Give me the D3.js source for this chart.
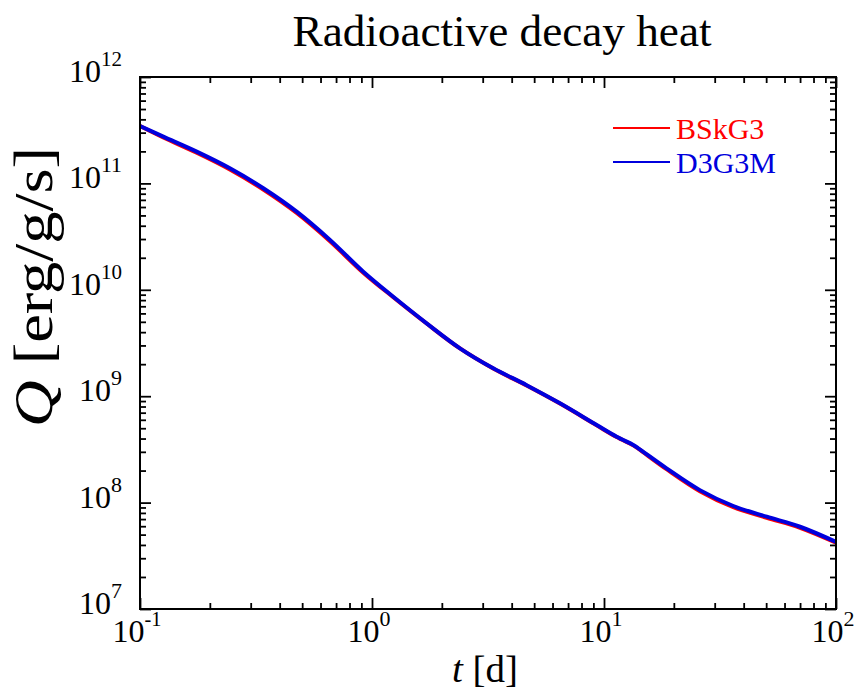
<!DOCTYPE html>
<html>
<head>
<meta charset="utf-8">
<script src="https://cdn.jsdelivr.net/npm/d3@7"></script>
<style>
  body { margin: 0; background: #fff; }
  svg text { font-family: "Liberation Serif", Tinos, "Times New Roman", Times, serif; }
</style>
</head>
<body>
<div id="wrapper"></div>
<script>
/* decay heat of two mass models */
const timeDays = [0.1, 0.126, 0.1755, 0.244, 0.34, 0.4735, 0.659, 0.917, 1.235, 1.72, 2.394,
  3.33, 4.64, 6.46, 9.3, 11.34, 13.37, 14.05, 18.6, 25.9, 36.1, 50.3, 70.0, 100]
const heatD3G3M = [3.46e11, 2.75e11, 1.99e11, 1.387e11, 9.0e10, 5.42e10, 2.94e10, 1.48e10, 8.6e9, 4.84e9, 2.82e9,
  1.83e9, 1.27e9, 8.57e8, 5.36e8, 4.16e8, 3.48e8, 3.24e8, 2.10e8, 1.31e8, 9.29e7, 7.37e7, 5.93e7, 4.27e7]
const heatBSkG3 = [3.46e11, 2.70e11, 1.94e11, 1.35e11, 8.75e10, 5.27e10, 2.86e10, 1.45e10, 8.52e9, 4.82e9, 2.81e9,
  1.82e9, 1.26e9, 8.52e8, 5.32e8, 4.13e8, 3.45e8, 3.21e8, 2.06e8, 1.28e8, 9.05e7, 7.2e7, 5.8e7, 4.2e7]

const seriesNames = ["BSkG3", "D3G3M"]
const seriesColors = ["#ff0000", "#0000dd"]

const xMajors = [0.1, 1, 10, 100]
const xExps = ["-1", "0", "1", "2"]
const yMajors = [1e7, 1e8, 1e9, 1e10, 1e11, 1e12]
const yExps = ["7", "8", "9", "10", "11", "12"]

const dimensions = {
  width: 858,
  height: 691,
  margin: { top: 77, right: 22, bottom: 82, left: 140 },
}
dimensions.boundedWidth = dimensions.width - dimensions.margin.left - dimensions.margin.right
dimensions.boundedHeight = dimensions.height - dimensions.margin.top - dimensions.margin.bottom

const wrapper = d3.select("#wrapper")
  .append("svg")
    .attr("width", dimensions.width)
    .attr("height", dimensions.height)

const bounds = wrapper.append("g")
  .attr("transform", `translate(${dimensions.margin.left},${dimensions.margin.top})`)

const xScale = d3.scaleLog()
  .domain([0.1, 100])
  .range([0, dimensions.boundedWidth])
const yScale = d3.scaleLog()
  .domain([1e7, 1e12])
  .range([dimensions.boundedHeight, 0])

// minor ticks 2..9 in each decade
const minors = (lo, hi) => {
  const out = []
  for (let e = lo; e < hi; e++)
    for (let m = 2; m <= 9; m++) out.push(m * Math.pow(10, e))
  return out
}
const xMinors = minors(-1, 2)
const yMinors = minors(7, 12)

const majorLen = 11, minorLen = 6

function tickAxis(gen, scale, vals, len, transform) {
  const g = bounds.append("g")
    .attr("transform", transform)
    .call(gen(scale).tickValues(vals).tickSize(len).tickSizeOuter(0).tickFormat(""))
  g.select(".domain").remove()
  g.selectAll(".tick line").attr("stroke", "#000").attr("stroke-width", 1.8)
}
const bw = dimensions.boundedWidth, bh = dimensions.boundedHeight
tickAxis(d3.axisBottom, xScale, xMajors, -majorLen, `translate(0,${bh})`)
tickAxis(d3.axisBottom, xScale, xMinors, -minorLen, `translate(0,${bh})`)
tickAxis(d3.axisTop, xScale, xMajors, -majorLen, "translate(0,0)")
tickAxis(d3.axisTop, xScale, xMinors, -minorLen, "translate(0,0)")
tickAxis(d3.axisLeft, yScale, yMajors, -majorLen, "translate(0,0)")
tickAxis(d3.axisLeft, yScale, yMinors, -minorLen, "translate(0,0)")
tickAxis(d3.axisRight, yScale, yMajors, -majorLen, `translate(${bw},0)`)
tickAxis(d3.axisRight, yScale, yMinors, -minorLen, `translate(${bw},0)`)

// data lines, red first so blue sits on top
const lineGen = d3.line()
  .x((d, i) => xScale(timeDays[i]))
  .y(d => yScale(d))
  .curve(d3.curveCatmullRom)

bounds.append("g").selectAll("path")
  .data([heatBSkG3, heatD3G3M])
  .join("path")
    .attr("d", lineGen)
    .attr("fill", "none")
    .attr("stroke", (d, i) => seriesColors[i])
    .attr("stroke-width", 4)
    .attr("stroke-linejoin", "round")

// frame
bounds.append("rect")
  .attr("width", bw)
  .attr("height", bh)
  .attr("fill", "none")
  .attr("stroke", "#000")
  .attr("stroke-width", 2)

// power-of-ten labels
const baseSize = 32, supSize = 20
const supWidth = s => s === "-1" ? 17 : (s.length === 1 ? 11 : 21)

function powerLabel(x0, baseline, exp) {
  const g = wrapper.append("g")
  g.append("text")
    .attr("x", x0).attr("y", baseline)
    .style("font-size", baseSize + "px")
    .text("10")
  g.append("text")
    .attr("x", x0 + 32).attr("y", baseline - 16)
    .attr("textLength", supWidth(exp))
    .attr("lengthAdjust", "spacingAndGlyphs")
    .style("font-size", supSize + "px")
    .text(exp)
}

xMajors.forEach((v, i) => {
  const tx = dimensions.margin.left + xScale(v)
  const sw = supWidth(xExps[i])
  powerLabel(tx - (32 + sw) / 2 - 3, 642, xExps[i])
})
yMajors.forEach((v, i) => {
  const ty = dimensions.margin.top + yScale(v)
  const sw = supWidth(yExps[i])
  powerLabel(122 - sw - 32, ty + 5, yExps[i])
})

// title and axis titles
wrapper.append("text")
  .attr("x", 502).attr("y", 46)
  .attr("text-anchor", "middle")
  .attr("textLength", 419)
  .attr("lengthAdjust", "spacingAndGlyphs")
  .style("font-size", "44px")
  .text("Radioactive decay heat")

const xLabel = wrapper.append("text")
  .attr("x", 452).attr("y", 682)
  .attr("textLength", 66)
  .attr("lengthAdjust", "spacingAndGlyphs")
  .style("font-size", "38px")
xLabel.append("tspan").style("font-style", "italic").text("t")
xLabel.append("tspan").text(" [d]")

const yLabel = wrapper.append("text")
  .attr("transform", "translate(52,427) rotate(-90)")
  .attr("textLength", 280)
  .attr("lengthAdjust", "spacingAndGlyphs")
  .style("font-size", "54px")
yLabel.append("tspan").style("font-style", "italic").text("Q")
yLabel.append("tspan").text(" [erg/g/s]")

// legend
const legend = wrapper.append("g")
seriesNames.forEach((name, i) => {
  const ly = 128 + i * 34
  legend.append("line")
    .attr("x1", 613).attr("x2", 670)
    .attr("y1", ly).attr("y2", ly)
    .attr("stroke", seriesColors[i])
    .attr("stroke-width", 2)
  legend.append("text")
    .attr("x", 676).attr("y", ly + 10.5)
    .attr("fill", seriesColors[i])
    .style("font-size", "30px")
    .text(name)
})
</script>
</body>
</html>
